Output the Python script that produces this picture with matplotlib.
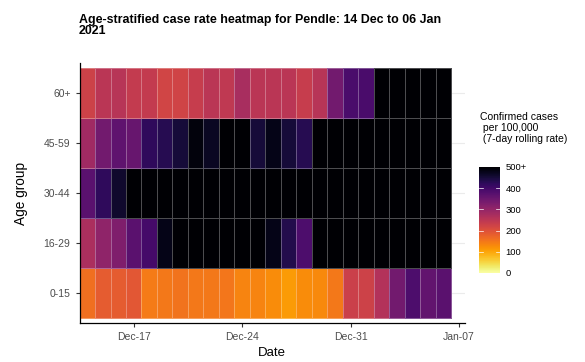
import numpy as np
import pandas as pd
import matplotlib
matplotlib.use("Agg")
import matplotlib.pyplot as plt
import matplotlib.dates as mdates

plt.rcParams["font.family"] = ["Liberation Sans", "DejaVu Sans"]

# 7-day rolling case rate per 100,000 (cells at 500+ are shown as 500)
dates = pd.date_range("2020-12-14", "2021-01-06", freq="D")
age_groups = ["0-15", "16-29", "30-44", "45-59", "60+"]

rate_0_15 = [160, 185, 185, 190, 145, 150, 155, 150, 150, 152, 135, 135,
             125, 110, 125, 130, 150, 230, 225, 260, 340, 385, 360, 370]
rate_16_29 = [270, 305, 325, 370, 395, 480, 500, 500, 500, 500, 500, 500,
              480, 435, 385, 500, 500, 500, 500, 500, 500, 500, 500, 500]
rate_30_44 = [370, 420, 460, 500, 500, 500, 500, 500, 500, 500, 500, 500,
              500, 500, 500, 500, 500, 500, 500, 500, 500, 500, 500, 500]
rate_45_59 = [285, 340, 365, 355, 420, 430, 450, 490, 470, 500, 500, 450,
              480, 450, 430, 500, 500, 500, 500, 500, 500, 500, 500, 500]
rate_60_plus = [225, 250, 255, 240, 240, 220, 222, 235, 250, 245, 275, 250,
                250, 250, 235, 255, 340, 390, 390, 500, 500, 500, 500, 500]

rates = np.array([rate_0_15, rate_16_29, rate_30_44, rate_45_59, rate_60_plus])

fig = plt.figure(figsize=(5.85, 3.62), dpi=100)
ax = fig.add_axes([0.136, 0.108, 0.659, 0.718])

x = mdates.date2num(dates)
x_edges = np.append(x - 0.5, x[-1] + 0.5)
y_edges = np.arange(len(age_groups) + 1) - 0.5

# faint horizontal grid behind the tiles
for i in range(len(age_groups)):
    ax.axhline(i, color="#ebebeb", lw=0.8, zorder=0)

mesh = ax.pcolormesh(x_edges, y_edges, rates, cmap="inferno_r", vmin=0, vmax=500,
                     edgecolors=(1, 1, 1, 0.3), linewidth=0.5, zorder=1)

ax.set_xlim(x_edges[0], x_edges[0] + 24.9)
ax.set_ylim(-0.59, 4.59)

ticks = pd.to_datetime(["2020-12-17", "2020-12-24", "2020-12-31", "2021-01-07"])
ax.set_xticks(mdates.date2num(ticks))
ax.xaxis.set_major_formatter(mdates.DateFormatter("%b-%d"))
ax.set_yticks(range(len(age_groups)))
ax.set_yticklabels(age_groups)
ax.tick_params(labelsize=7.5, length=3, width=0.8, colors="#333333", labelcolor="#4d4d4d")

for side in ["top", "right"]:
    ax.spines[side].set_visible(False)
for side in ["left", "bottom"]:
    ax.spines[side].set_linewidth(0.9)

ax.set_xlabel("Date", fontsize=9.5, labelpad=4)
ax.set_ylabel("Age group", fontsize=9.8, labelpad=11)

fig.text(79 / 585, 1 - 14 / 362,
         "Age-stratified case rate heatmap for Pendle: 14 Dec to 06 Jan\n2021",
         fontsize=8.9, fontweight="bold", ha="left", va="top", linespacing=0.9)

# colour bar
cax = fig.add_axes([0.819, 0.246, 0.036, 0.293])
cb = fig.colorbar(mesh, cax=cax)
cb.outline.set_visible(False)
cb.set_ticks([0, 100, 200, 300, 400, 500])
cb.set_ticklabels(["0", "100", "200", "300", "400", "500+"])
cb.ax.tick_params(labelsize=6.8, length=0, pad=4)
for v in [100, 200, 300, 400]:
    cax.plot([0, 0.2], [v, v], color="white", lw=0.5, transform=cax.get_yaxis_transform())
    cax.plot([0.8, 1], [v, v], color="white", lw=0.5, transform=cax.get_yaxis_transform())

fig.text(480 / 585, 1 - 112 / 362,
         "Confirmed cases\n per 100,000\n (7-day rolling rate)",
         fontsize=7.5, ha="left", va="top", linespacing=1.15)

fig.savefig("out.png", dpi=100)
